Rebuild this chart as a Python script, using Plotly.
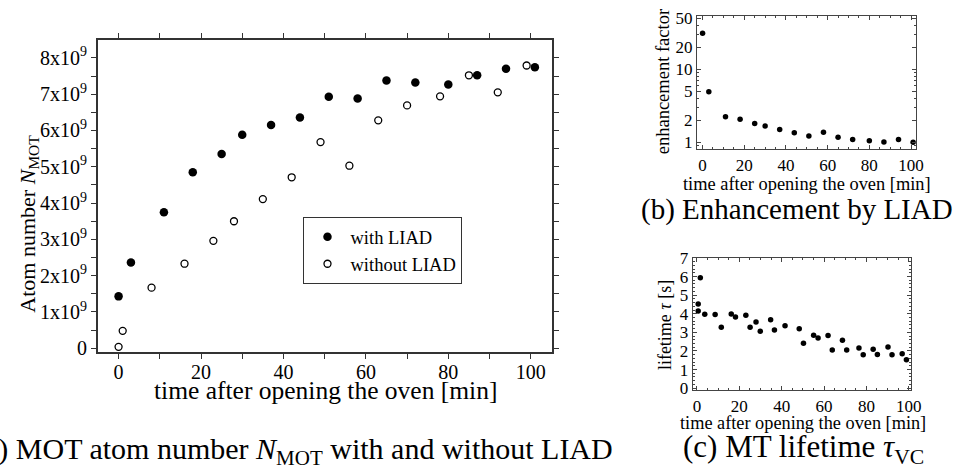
import plotly.graph_objects as go

# ---------------- data ----------------
# (a) MOT atom number, in units of 10^9 atoms
t_with = [0, 3, 11, 18, 25, 30, 37, 44, 51, 58, 65, 72, 80, 87, 94, 101]
n_with_1e9 = [1.43, 2.36, 3.75, 4.85, 5.35, 5.88, 6.15, 6.36, 6.93,
              6.88, 7.38, 7.32, 7.27, 7.52, 7.70, 7.74]
t_without = [0, 1, 8, 16, 23, 28, 35, 42, 49, 56, 63, 70, 78, 85, 92, 99]
n_without_1e9 = [0.04, 0.48, 1.67, 2.33, 2.96, 3.50, 4.11, 4.71, 5.68,
                 5.03, 6.28, 6.69, 6.94, 7.52, 7.05, 7.79]
# tick positions (labelled ones and unlabelled intermediate ones)
a_ytickvals = [0, 0.5, 1, 1.5, 2, 2.5, 3, 3.5, 4, 4.5, 5, 5.5, 6, 6.5, 7, 7.5, 8]
a_yticktext = ["0", "", "1x10<sup>9</sup>", "", "2x10<sup>9</sup>", "",
               "3x10<sup>9</sup>", "", "4x10<sup>9</sup>", "", "5x10<sup>9</sup>", "",
               "6x10<sup>9</sup>", "", "7x10<sup>9</sup>", "", "8x10<sup>9</sup>"]
a_xtickvals = [0, 10, 20, 30, 40, 50, 60, 70, 80, 90, 100]
a_xticktext = ["0", "", "20", "", "40", "", "60", "", "80", "", "100"]
x_ticks = [0, 20, 40, 60, 80, 100]

# (b) enhancement factor
t_enh = [0, 3, 11, 18, 25, 30, 37, 44, 51, 58, 65, 72, 80, 87, 94, 101]
enh = [31.0, 4.9, 2.24, 2.07, 1.81, 1.67, 1.50, 1.35, 1.22, 1.37, 1.17, 1.09, 1.05,
       1.01, 1.09, 1.00]
b_ytickvals = [1, 2, 5, 10, 20, 50]

# (c) MT lifetime
t_life = [0.6, 0.6, 1.6, 3.7, 8.6, 11.5, 16.2, 18.2, 23.1, 25.1, 27.9, 29.9, 34.8, 36.6,
          41.6, 48.3, 50.3, 55.1, 57.2, 61.9, 63.9, 68.7, 70.7, 76.5, 78.5, 83.2, 85.2,
          90.2, 92.1, 96.9, 98.9]
life = [4.53, 4.15, 5.94, 3.97, 3.96, 3.28, 3.99, 3.82, 3.92, 3.27, 3.56, 3.06, 3.68, 3.13,
        3.35, 3.19, 2.42, 2.85, 2.70, 2.83, 2.05, 2.57, 2.05, 2.16, 1.79, 2.09, 1.81,
        2.21, 1.79, 1.85, 1.53]
c_ytickvals = [0, 1, 2, 3, 4, 5, 6, 7]

# ---------------- layout helpers ----------------
W, H = 957, 470
def px(x):
    return x / W
def py(y):
    return 1 - y / H

SERIF = "Liberation Serif"
FRAME = "#333"

fig = go.Figure()

# (a)
fig.add_trace(go.Scatter(x=t_with, y=n_with_1e9, mode="markers", name="with LIAD",
                         marker=dict(symbol="circle", size=8.5, color="black"),
                         xaxis="x", yaxis="y"))
fig.add_trace(go.Scatter(x=t_without, y=n_without_1e9, mode="markers", name="without LIAD",
                         marker=dict(symbol="circle-open", size=7, color="black",
                                     line=dict(width=1.3, color="black")),
                         xaxis="x", yaxis="y"))
# (b)
fig.add_trace(go.Scatter(x=t_enh, y=enh, mode="markers", showlegend=False,
                         marker=dict(size=5.5, color="black"), xaxis="x2", yaxis="y2"))
# (c)
fig.add_trace(go.Scatter(x=t_life, y=life, mode="markers", showlegend=False,
                         marker=dict(size=5.5, color="black"), xaxis="x3", yaxis="y3"))

a_xrange = [-5, 105.2]
a_yrange = [-0.106, 8.497]
a_dom_x = [px(99), px(558)]
a_dom_y = [py(356), py(32)]

common = dict(showgrid=False, zeroline=False, showline=True)

fig.update_layout(
    width=W, height=H, margin=dict(l=0, r=0, t=0, b=0),
    paper_bgcolor="white", plot_bgcolor="white",
    font=dict(family=SERIF, color="black"),
    showlegend=True,
    legend=dict(x=px(306.7), y=py(216), xanchor="left", yanchor="top",
                bordercolor="#333", borderwidth=1, bgcolor="white",
                font=dict(family=SERIF, size=18.5, color="black"),
                tracegroupgap=0, itemwidth=36),
    xaxis=dict(domain=a_dom_x, range=a_xrange, anchor="y", tickvals=a_xtickvals,
               ticktext=a_xticktext, ticks="outside", ticklen=5, tickwidth=1,
               tickcolor=FRAME, linecolor=FRAME, linewidth=2, mirror="ticks",
               ticklabelstandoff=-4,
               tickfont=dict(size=20, family=SERIF), **common),
    yaxis=dict(domain=a_dom_y, range=a_yrange, anchor="x", tickvals=a_ytickvals,
               ticktext=a_yticktext, ticks="outside", ticklen=5, tickwidth=1,
               tickcolor=FRAME, linecolor=FRAME, linewidth=2, mirror="ticks",
               tickfont=dict(size=20, family=SERIF), **common),
    # (b)
    xaxis2=dict(domain=[px(704.3), px(925.7)], range=[-2.7, 102.4], anchor="y2",
                tickvals=x_ticks, ticks="inside", ticklen=4, tickwidth=1, tickcolor="#444",
                mirror="ticks", linecolor="#444", linewidth=1.1,
                minor=dict(dtick=5, tick0=0, ticks="inside", ticklen=2, tickwidth=1,
                           tickcolor="#444"),
                tickfont=dict(size=17, family=SERIF), **common),
    yaxis2=dict(domain=[py(145.7), py(7.3)], type="log", range=[-0.0975, 1.726],
                anchor="x2", tickvals=b_ytickvals, ticktext=[str(v) for v in b_ytickvals],
                ticks="inside", ticklen=4, tickwidth=1, tickcolor="#444",
                mirror="ticks", linecolor="#444", linewidth=1.1,
                minor=dict(dtick="D1", ticks="inside", ticklen=2, tickwidth=1,
                           tickcolor="#444"),
                tickfont=dict(size=17, family=SERIF), **common),
    # (c)
    xaxis3=dict(domain=[px(700), px(920.7)], range=[-2.0, 101.1], anchor="y3",
                tickvals=x_ticks, ticks="inside", ticklen=4, tickwidth=1, tickcolor="#444",
                mirror="ticks", linecolor="#444", linewidth=1.1,
                minor=dict(dtick=5, tick0=0, ticks="inside", ticklen=2, tickwidth=1,
                           tickcolor="#444"),
                tickfont=dict(size=17, family=SERIF), **common),
    yaxis3=dict(domain=[py(395.7), py(258.3)], range=[-0.12, 7.0], anchor="x3",
                tickvals=c_ytickvals, ticks="inside", ticklen=4, tickwidth=1,
                tickcolor="#444", mirror="ticks", linecolor="#444", linewidth=1.1,
                minor=dict(dtick=0.2, tick0=0, ticks="inside", ticklen=2, tickwidth=1,
                           tickcolor="#444"),
                tickfont=dict(size=17, family=SERIF), **common),
)

def ann(text, x, y, size, angle=0, xanchor="center"):
    fig.add_annotation(text=text, x=px(x), y=py(y), xref="paper", yref="paper",
                       showarrow=False, textangle=angle, xanchor=xanchor,
                       yanchor="middle", font=dict(family=SERIF, size=size, color="black"))

# (a) titles
ann("time after opening the oven [min]", 329, 396, 25.5)
ann("Atom number <i>N</i><sub>MOT</sub>", 29, 223, 22, angle=-90)
ann("(a) MOT atom number <i>N</i><sub>MOT</sub> with and without LIAD", -27, 459, 30,
    xanchor="left")
# (b) titles
ann("time after opening the oven [min]", 816, 182, 18.4)
ann("enhancement factor", 670, 75, 18.5, angle=-90)
ann("(b) Enhancement by LIAD", 805, 208, 29)
# (c) titles
ann("time after opening the oven [min]", 811, 430, 18.3)
ann("lifetime <i>τ</i> [s]", 672, 328, 18, angle=-90)
ann("(c) MT lifetime <i>τ</i><sub>VC</sub>", 812, 457, 31)

fig.write_html("out.html")
